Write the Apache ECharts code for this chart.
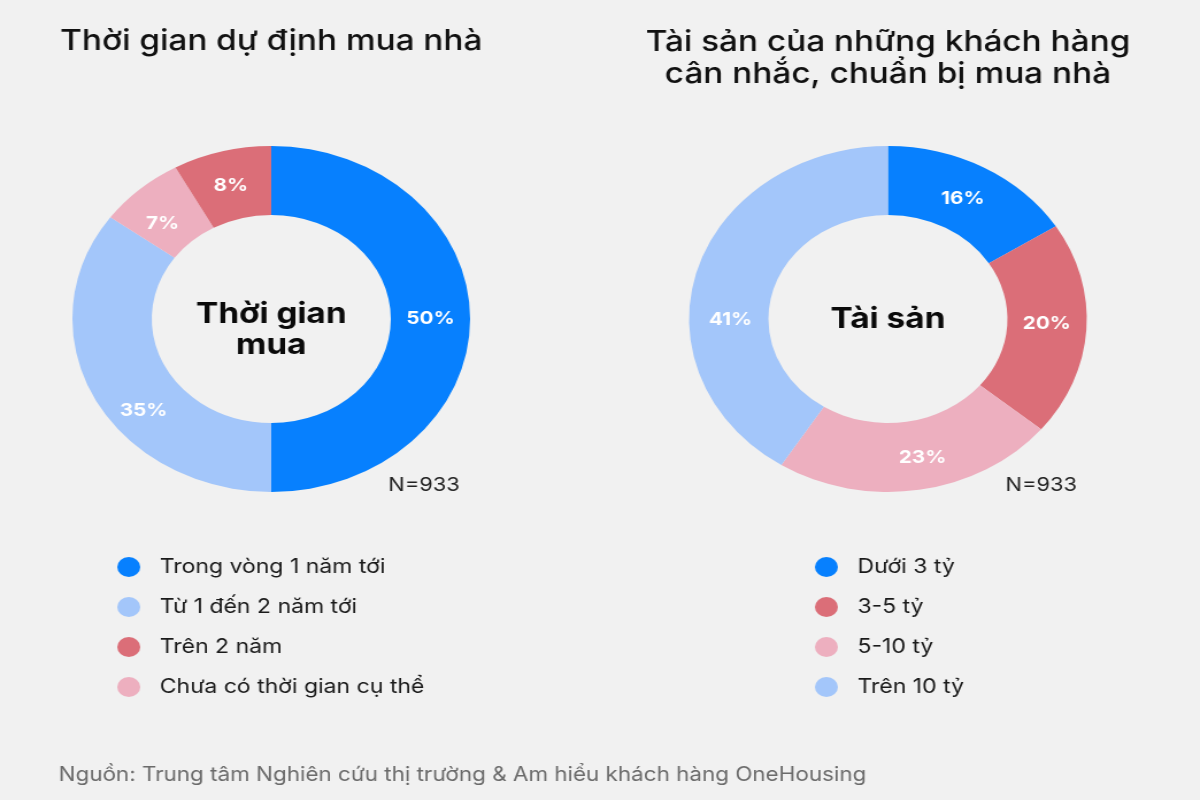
<!DOCTYPE html>
<html>
<head>
<meta charset="utf-8">
<script src="https://cdn.jsdelivr.net/npm/echarts@6/dist/echarts.min.js"></script>
<style>
  html, body { margin: 0; padding: 0; background: #F1F1F1; overflow: hidden; width: 1200px; height: 800px; }
  #chart { width: 1044px; height: 800px; transform: scaleX(1.1494); transform-origin: 0 0; }
</style>
</head>
<body>
<div id="chart"></div>
<script>
// ---- data ----
const timeNames = ['Trong vòng 1 năm tới', 'Từ 1 đến 2 năm tới', 'Chưa có thời gian cụ thể', 'Trên 2 năm'];
const timeValues = [50, 35, 7, 8];
const timeLegendOrder = ['Trong vòng 1 năm tới', 'Từ 1 đến 2 năm tới', 'Trên 2 năm', 'Chưa có thời gian cụ thể'];

const assetNames = ['Dưới 3 tỷ', '3-5 tỷ', '5-10 tỷ', 'Trên 10 tỷ'];
const assetValues = [16, 20, 23, 41];

const sampleSize = 'N=933';
const titleLeft = 'Thời gian dự định mua nhà';
const titleRight = 'Tài sản của những khách hàng\ncân nhắc, chuẩn bị mua nhà';
const centerLeft = 'Thời gian\nmua';
const centerRight = 'Tài sản';
const sourceText = 'Nguồn: Trung tâm Nghiên cứu thị trường & Am hiểu khách hàng OneHousing';

// ---- styles ----
const colorMap = {
  'Trong vòng 1 năm tới': '#0780FE',
  'Từ 1 đến 2 năm tới': '#A3C6FA',
  'Trên 2 năm': '#DB6E78',
  'Chưa có thời gian cụ thể': '#EDAFBF',
  'Dưới 3 tỷ': '#0780FE',
  '3-5 tỷ': '#DB6E78',
  '5-10 tỷ': '#EDAFBF',
  'Trên 10 tỷ': '#A3C6FA'
};
// small hand-tuned nudges of the in-ring percentage labels (style only)
const labelNudge = {
  'Trong vòng 1 năm tới': [-3, 0],
  'Từ 1 đến 2 năm tới': [15, 27],
  'Chưa có thời gian cụ thể': [-1, 11],
  'Trên 2 năm': [0, 4],
  'Dưới 3 tỷ': [-3, 4],
  '3-5 tỷ': [-3, -4],
  '5-10 tỷ': [8, -1],
  'Trên 10 tỷ': [-1, 40]
};

const FONT = 'Inter, "Noto Sans", sans-serif';

function mk(names, values) {
  return names.map((n, i) => ({
    name: n,
    value: values[i],
    itemStyle: { color: colorMap[n] },
    label: { offset: labelNudge[n] }
  }));
}

const pieLabel = {
  show: true,
  position: 'inside',
  formatter: '{c}%',
  color: '#ffffff',
  fontFamily: FONT,
  fontWeight: 'bold',
  fontSize: 18
};

const legendCommon = {
  orient: 'vertical',
  icon: 'circle',
  itemWidth: 20,
  itemHeight: 20,
  itemGap: 20,
  selectedMode: false,
  textStyle: { fontFamily: FONT, fontSize: 20, color: '#1a1a1a', padding: [0, 0, 0, 12] }
};

const chart = echarts.init(document.getElementById('chart'));
chart.setOption({
  backgroundColor: '#F1F1F1',
  animation: false,
  legend: [
    Object.assign({}, legendCommon, { left: 97, top: 552, data: timeLegendOrder }),
    Object.assign({}, legendCommon, { left: 704, top: 552, data: assetNames })
  ],
  series: [
    {
      type: 'pie',
      center: [236, 319],
      radius: [104, 173],
      startAngle: 90,
      clockwise: true,
      avoidLabelOverlap: false,
      label: pieLabel,
      labelLine: { show: false },
      emphasis: { disabled: true },
      data: mk(timeNames, timeValues)
    },
    {
      type: 'pie',
      center: [772.5, 319],
      radius: [104, 173],
      startAngle: 90,
      clockwise: true,
      avoidLabelOverlap: false,
      label: pieLabel,
      labelLine: { show: false },
      emphasis: { disabled: true },
      data: mk(assetNames, assetValues)
    }
  ],
  graphic: [
    { type: 'text', x: 236, y: 41, style: { text: titleLeft, fontFamily: FONT, fontSize: 29, fontWeight: 500, fill: '#111', align: 'center', verticalAlign: 'middle' } },
    { type: 'text', x: 772.5, y: 58, style: { text: titleRight, fontFamily: FONT, fontSize: 29, fontWeight: 500, lineHeight: 32, fill: '#111', align: 'center', verticalAlign: 'middle' } },
    { type: 'text', x: 236, y: 330, style: { text: centerLeft, fontFamily: FONT, fontSize: 29, fontWeight: 'bold', lineHeight: 31, fill: '#0a0a0a', align: 'center', verticalAlign: 'middle' } },
    { type: 'text', x: 772.5, y: 319, style: { text: centerRight, fontFamily: FONT, fontSize: 29, fontWeight: 'bold', fill: '#0a0a0a', align: 'center', verticalAlign: 'middle' } },
    { type: 'text', x: 400, y: 485, style: { text: sampleSize, fontFamily: FONT, fontSize: 19, fill: '#222', align: 'right', verticalAlign: 'middle' } },
    { type: 'text', x: 937, y: 485, style: { text: sampleSize, fontFamily: FONT, fontSize: 19, fill: '#222', align: 'right', verticalAlign: 'middle' } },
    { type: 'text', x: 51, y: 775, style: { text: sourceText, fontFamily: FONT, fontSize: 19.5, fill: '#6b6b6b', align: 'left', verticalAlign: 'middle' } }
  ]
});
</script>
</body>
</html>
